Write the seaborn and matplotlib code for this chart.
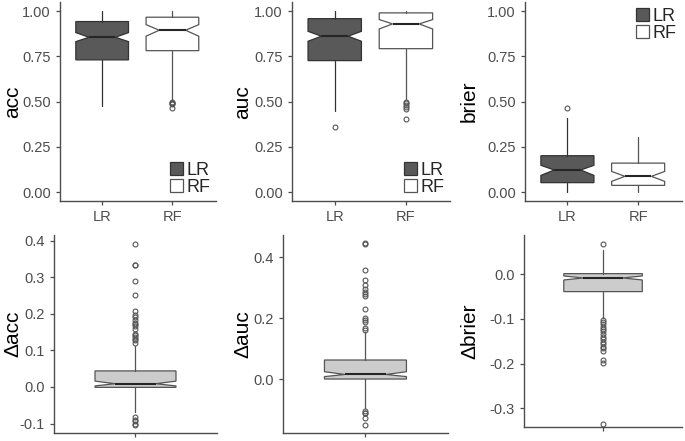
import matplotlib
matplotlib.use("Agg")
import matplotlib.pyplot as plt
from matplotlib.patches import Patch
import seaborn as sns

# ---- data ----
# each box: [whisker low, q1, median, q3, whisker high]
models = ["LR", "RF"]

acc_LR = [0.474, 0.731, 0.856, 0.943, 1.000]
acc_RF = [0.515, 0.782, 0.895, 0.967, 1.000]
acc_notch = [[0.832, 0.882], [0.862, 0.926]]
acc_fliers = [[], [0.500, 0.495, 0.490, 0.485, 0.466]]

auc_LR = [0.450, 0.727, 0.862, 0.959, 1.000]
auc_RF = [0.515, 0.793, 0.930, 0.991, 1.000]
auc_notch = [[0.834, 0.889], [0.902, 0.954]]
auc_fliers = [[0.358], [0.500, 0.490, 0.480, 0.470, 0.460, 0.405]]

brier_LR = [0.000, 0.052, 0.122, 0.201, 0.410]
brier_RF = [0.000, 0.037, 0.087, 0.160, 0.306]
brier_notch = [[0.092, 0.148], [0.059, 0.114]]
brier_fliers = [[0.465], []]

d_acc = [-0.068, -0.001, 0.009, 0.044, 0.112]
d_acc_notch = [0.003, 0.016]
d_acc_fliers = [0.391, 0.335, 0.333, 0.291, 0.251, 0.208, 0.198, 0.192, 0.182,
                0.175, 0.171, 0.166, 0.160, 0.146, 0.141, 0.137, 0.132, 0.128,
                0.121, -0.082, -0.089, -0.094, -0.100, -0.104]

d_auc = [-0.096, 0.000, 0.015, 0.0625, 0.156]
d_auc_notch = [0.008, 0.024]
d_auc_fliers = [0.446, 0.442, 0.358, 0.325, 0.309, 0.296, 0.285, 0.279, 0.273,
                0.230, 0.200, 0.195, 0.189, 0.167, 0.161,
                -0.104, -0.110, -0.113, -0.129, -0.151]

d_brier = [-0.097, -0.0388, -0.0082, 0.0015, 0.055]
d_brier_notch = [-0.0127, -0.0037]
d_brier_fliers = [0.069, -0.102, -0.106, -0.111, -0.117, -0.123, -0.128, -0.134,
                  -0.140, -0.145, -0.151, -0.156, -0.162, -0.166, -0.171, -0.192,
                  -0.198, -0.335]

# ---- style ----
sns.set_style("ticks")
plt.rcParams["font.family"] = ["Liberation Sans", "DejaVu Sans"]

fills = {"LR": "#595959", "RF": "#ffffff"}
edges = {"LR": "#333333", "RF": "#555555"}
grey = "#4d4d4d"


def make_stats(five, notch, fliers, label):
    return dict(whislo=five[0], q1=five[1], med=five[2], q3=five[3], whishi=five[4],
                cilo=notch[0], cihi=notch[1], fliers=fliers, label=label)


def draw_boxes(ax, stats, face, edge):
    for i, st in enumerate(stats):
        ax.bxp([st], positions=[i], widths=0.75, shownotches=True, patch_artist=True,
               showcaps=False,
               boxprops=dict(facecolor=face[i], edgecolor=edge[i], linewidth=0.9),
               whiskerprops=dict(color=edge[i], linewidth=0.9),
               medianprops=dict(color="#262626", linewidth=1.5),
               flierprops=dict(marker="o", markersize=3.5, markerfacecolor="none",
                               markeredgecolor="#555555", markeredgewidth=0.8))


def style_axis(ax, ylabel, label_x):
    sns.despine(ax=ax)
    for s in ["left", "bottom"]:
        ax.spines[s].set_color(grey)
        ax.spines[s].set_linewidth(1.0)
    ax.tick_params(colors=grey, labelcolor="#4d4d4d", labelsize=10.5, length=3, width=0.9)
    ax.set_ylabel(ylabel, fontsize=15, color="black", va="center")
    ax.yaxis.set_label_coords(label_x, 0.5)


fig = plt.figure(figsize=(6.85, 4.41), dpi=100)

top_pos = [[0.0876, 0.544, 0.2277, 0.451],
           [0.4263, 0.544, 0.2307, 0.451],
           [0.7664, 0.544, 0.2292, 0.451]]
top_label_x = [-0.305, -0.31, -0.355]
top_data = [("acc", acc_LR, acc_RF, acc_notch, acc_fliers, "lower right"),
            ("auc", auc_LR, auc_RF, auc_notch, auc_fliers, "lower right"),
            ("brier", brier_LR, brier_RF, brier_notch, brier_fliers, "upper right")]

for pos, lx, (name, lr, rf, notch, fl, loc) in zip(top_pos, top_label_x, top_data):
    ax = fig.add_axes(pos)
    stats = [make_stats(lr, notch[0], fl[0], "LR"), make_stats(rf, notch[1], fl[1], "RF")]
    draw_boxes(ax, stats, [fills[m] for m in models], [edges[m] for m in models])
    ax.set_xlim(-0.6, 1.62)
    ax.set_ylim(-0.05, 1.05)
    ax.set_yticks([0, 0.25, 0.5, 0.75, 1.0])
    ax.set_yticklabels(["0.00", "0.25", "0.50", "0.75", "1.00"])
    ax.set_xticks([0, 1])
    ax.set_xticklabels(models)
    style_axis(ax, name, lx)
    handles = [Patch(facecolor=fills[m], edgecolor=edges[m], linewidth=0.9) for m in models]
    ax.legend(handles, models, loc=loc, frameon=False, fontsize=13,
              handlelength=0.7, handleheight=0.7, handletextpad=0.2,
              labelspacing=0.0, borderaxespad=0.1, borderpad=0.2)

bot_pos = [[0.0788, 0.018, 0.238, 0.449],
           [0.413, 0.018, 0.241, 0.449],
           [0.765, 0.032, 0.2307, 0.435]]
bot_label_x = [-0.25, -0.242, -0.34]
bot_data = [("Δacc", d_acc, d_acc_notch, d_acc_fliers, (-0.126, 0.4156),
             [-0.1, 0.0, 0.1, 0.2, 0.3, 0.4]),
            ("Δauc", d_auc, d_auc_notch, d_auc_fliers, (-0.1775, 0.473),
             [0.0, 0.2, 0.4]),
            ("Δbrier", d_brier, d_brier_notch, d_brier_fliers, (-0.342, 0.088),
             [-0.3, -0.2, -0.1, 0.0])]

for pos, lx, (name, five, notch, fl, ylim, yt) in zip(bot_pos, bot_label_x, bot_data):
    ax = fig.add_axes(pos)
    draw_boxes(ax, [make_stats(five, notch, fl, "")], ["#cccccc"], ["#555555"])
    ax.set_xlim(-0.755, 0.755)
    ax.set_ylim(*ylim)
    ax.set_yticks(yt)
    ax.set_yticklabels([f"{v:.1f}" for v in yt])
    ax.set_xticks([0])
    ax.set_xticklabels([""])
    style_axis(ax, name, lx)

fig.savefig("out.png", dpi=100)
